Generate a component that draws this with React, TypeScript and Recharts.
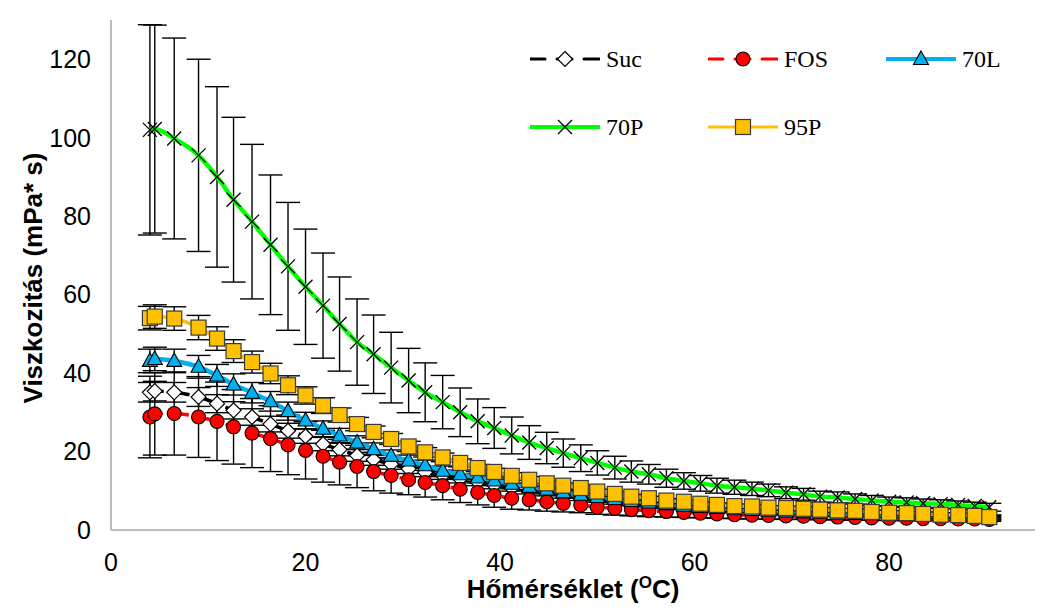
import { ErrorBar, Legend, Line, LineChart, XAxis, YAxis } from "recharts";

// temperature (°C) of each measured point
const temps = [
  4.0, 4.5, 6.5, 9.0, 10.9, 12.6, 14.5, 16.4, 18.2, 20.0,
  21.8, 23.5, 25.3, 27.0, 28.8, 30.6, 32.3, 34.1, 35.9, 37.7,
  39.4, 41.2, 43.0, 44.8, 46.5, 48.3, 50.0, 51.8, 53.5, 55.3,
  57.1, 58.9, 60.6, 62.3, 64.1, 65.9, 67.6, 69.4, 71.2, 72.9,
  74.7, 76.5, 78.2, 80.0, 81.8, 83.5, 85.3, 87.1, 88.8, 90.3,
];

const suc = [
  35.1, 35.4, 35.1, 33.9, 32.2, 30.5, 28.8, 27.0, 25.3, 23.9,
  21.9, 20.5, 19.0, 17.9, 16.8, 15.6, 14.7, 13.9, 13.0, 12.2,
  11.4, 10.7, 10.0, 9.4, 8.8, 8.2, 7.7, 7.2, 6.8, 6.4,
  6.0, 5.7, 5.4, 5.1, 4.9, 4.7, 4.5, 4.3, 4.2, 4.0,
  3.9, 3.8, 3.7, 3.6, 3.5, 3.4, 3.3, 3.2, 3.1, 3.0,
];
const sucErr = [
  2.5, 2.5, 2.5, 2.4, 2.3, 2.2, 2.1, 2.0, 1.9, 1.8,
  1.7, 1.6, 1.5, 1.4, 1.3, 1.2, 1.1, 1.0, 1.0, 0.9,
  0.9, 0.8, 0.8, 0.7, 0.7, 0.7, 0.6, 0.6, 0.6, 0.5,
  0.5, 0.5, 0.5, 0.5, 0.5, 0.5, 0.5, 0.5, 0.5, 0.5,
  0.5, 0.5, 0.5, 0.5, 0.5, 0.5, 0.5, 0.5, 0.5, 0.5,
];

const fos = [
  28.8, 29.6, 29.7, 28.8, 27.7, 26.3, 24.7, 23.3, 21.7, 20.3,
  18.8, 17.3, 16.2, 14.9, 13.9, 12.8, 12.1, 11.3, 10.4, 9.6,
  8.8, 8.1, 7.7, 7.2, 6.8, 6.4, 5.8, 5.5, 5.2, 4.9,
  4.7, 4.5, 4.3, 4.1, 3.9, 3.8, 3.7, 3.6, 3.5, 3.4,
  3.3, 3.2, 3.1, 3.0, 3.0, 2.9, 2.9, 2.8, 2.8, 2.7,
];
const fosErr = [
  10.4, 10.5, 10.6, 10.3, 10.0, 9.5, 8.8, 8.4, 7.6, 7.3,
  6.6, 5.8, 5.4, 4.9, 4.5, 3.8, 3.7, 3.6, 3.4, 3.2,
  3.0, 2.8, 2.6, 2.4, 2.2, 2.0, 1.8, 1.7, 1.6, 1.5,
  1.4, 1.3, 1.2, 1.1, 1.0, 1.0, 0.9, 0.9, 0.8, 0.8,
  0.7, 0.7, 0.6, 0.6, 0.6, 0.5, 0.5, 0.5, 0.5, 0.5,
];

const l70 = [
  43.1, 43.6, 43.1, 41.6, 39.4, 37.1, 35.0, 32.8, 30.3, 27.9,
  25.8, 24.1, 22.3, 20.6, 18.9, 17.7, 16.5, 15.1, 14.2, 13.4,
  12.6, 11.8, 11.0, 10.3, 9.6, 9.0, 8.4, 7.9, 7.4, 7.0,
  6.6, 6.2, 5.9, 5.6, 5.3, 5.1, 4.9, 4.7, 4.5, 4.4,
  4.2, 4.1, 4.0, 3.9, 3.8, 3.7, 3.6, 3.5, 3.4, 3.3,
];
const l70Err = [
  3.0, 3.0, 3.0, 2.9, 2.8, 2.7, 2.6, 2.5, 2.3, 2.1,
  2.0, 1.8, 1.7, 1.6, 1.5, 1.4, 1.3, 1.2, 1.1, 1.0,
  0.9, 0.9, 0.8, 0.8, 0.7, 0.7, 0.7, 0.6, 0.6, 0.6,
  0.5, 0.5, 0.5, 0.5, 0.5, 0.5, 0.5, 0.5, 0.5, 0.5,
  0.5, 0.5, 0.5, 0.5, 0.5, 0.5, 0.5, 0.5, 0.5, 0.5,
];

const p70 = [
  102.0, 102.2, 99.8, 95.5, 90.0, 84.2, 78.6, 72.7, 67.2, 62.0,
  57.2, 52.5, 47.9, 44.8, 41.4, 38.1, 35.1, 32.6, 30.0, 27.7,
  26.0, 24.1, 22.3, 20.9, 19.6, 18.3, 17.1, 15.9, 14.9, 14.2,
  13.2, 12.5, 11.9, 11.3, 10.9, 10.5, 10.1, 9.5, 9.1, 8.5,
  8.3, 7.9, 7.5, 7.2, 7.0, 6.8, 6.6, 6.4, 6.1, 5.8,
];
const p70Err = [
  26.8, 26.5, 25.6, 24.5, 23.0, 21.0, 19.7, 17.8, 16.3, 14.7,
  13.4, 12.0, 11.0, 10.0, 9.0, 8.2, 7.5, 6.8, 6.2, 5.7,
  5.2, 4.7, 4.3, 4.0, 3.6, 3.4, 3.1, 2.9, 2.7, 2.5,
  2.3, 2.1, 2.0, 1.9, 1.8, 1.7, 1.6, 1.5, 1.5, 1.4,
  1.4, 1.3, 1.3, 1.2, 1.2, 1.1, 1.1, 1.0, 1.0, 1.0,
];

const p95 = [
  54.0, 54.4, 53.9, 51.6, 48.8, 45.6, 42.8, 39.9, 36.9, 34.3,
  31.7, 29.3, 27.0, 25.0, 23.2, 21.3, 19.8, 18.5, 17.1, 15.8,
  14.8, 13.8, 12.8, 11.9, 11.3, 10.7, 9.8, 9.2, 8.5, 8.1,
  7.5, 7.2, 6.7, 6.4, 6.1, 6.0, 5.7, 5.6, 5.4, 5.2,
  5.0, 4.9, 4.6, 4.4, 4.3, 4.1, 3.9, 3.8, 3.6, 3.3,
];
const p95Err = [
  3.0, 3.0, 3.0, 3.1, 3.0, 2.9, 2.8, 2.6, 2.4, 2.2,
  2.0, 1.8, 1.7, 1.5, 1.4, 1.3, 1.2, 1.1, 1.0, 0.9,
  0.9, 0.8, 0.8, 0.7, 0.7, 0.7, 0.6, 0.6, 0.6, 0.5,
  0.5, 0.5, 0.5, 0.5, 0.5, 0.5, 0.5, 0.5, 0.5, 0.5,
  0.5, 0.5, 0.5, 0.5, 0.5, 0.5, 0.5, 0.5, 0.5, 0.5,
];

const xTicks = [0, 20, 40, 60, 80];
const yTicks = [0, 20, 40, 60, 80, 100, 120];

const rows = temps.map((t, i) => ({
  t,
  suc: suc[i], sucErr: sucErr[i],
  fos: fos[i], fosErr: fosErr[i],
  l70: l70[i], l70Err: l70Err[i],
  p70: p70[i], p70Err: p70Err[i],
  p95: p95[i], p95Err: p95Err[i],
}));

type MarkerKind = "diamond" | "circle" | "triangle" | "cross" | "square";

function Marker({ kind, cx, cy }: { kind: MarkerKind; cx: number; cy: number }) {
  if (cx == null || cy == null) return null;
  switch (kind) {
    case "diamond":
      return (
        <path
          d={`M${cx},${cy - 7.5}L${cx + 7.5},${cy}L${cx},${cy + 7.5}L${cx - 7.5},${cy}Z`}
          fill="#fff" stroke="#000" strokeWidth={1.2}
        />
      );
    case "circle":
      return <circle cx={cx} cy={cy} r={7} fill="#ff0000" stroke="#000" strokeWidth={1.1} />;
    case "triangle":
      return (
        <path
          d={`M${cx},${cy - 8}L${cx + 7.5},${cy + 5.5}L${cx - 7.5},${cy + 5.5}Z`}
          fill="#00b0f0" stroke="#000" strokeWidth={1.1}
        />
      );
    case "cross":
      return (
        <path
          d={`M${cx - 7},${cy - 7}L${cx + 7},${cy + 7}M${cx + 7},${cy - 7}L${cx - 7},${cy + 7}`}
          stroke="#000" strokeWidth={1.3} fill="none"
        />
      );
    default:
      return (
        <rect x={cx - 7.5} y={cy - 7.5} width={15} height={15} fill="#ffc000" stroke="#3a3a3a" strokeWidth={1.2} />
      );
  }
}

const series = [
  { key: "suc", name: "Suc", color: "#000000", width: 3.5, dash: "14 12", marker: "diamond" as MarkerKind },
  { key: "fos", name: "FOS", color: "#ff0000", width: 3.5, dash: "14 12", marker: "circle" as MarkerKind },
  { key: "l70", name: "70L", color: "#00b0f0", width: 4.5, dash: undefined, marker: "triangle" as MarkerKind },
  { key: "p70", name: "70P", color: "#00ff00", width: 4.5, dash: undefined, marker: "cross" as MarkerKind },
  { key: "p95", name: "95P", color: "#ffc000", width: 3.5, dash: undefined, marker: "square" as MarkerKind },
];

// where each legend entry sits inside the legend box
const legendSlots = [
  { left: 10, top: 29 },
  { left: 188, top: 29 },
  { left: 366, top: 29 },
  { left: 10, top: 97 },
  { left: 188, top: 97 },
];

function LegendBox() {
  return (
    <div style={{ position: "relative", width: 520, height: 120 }}>
      {series.map((s, i) => (
        <div key={s.key} style={{ position: "absolute", left: legendSlots[i].left, top: legendSlots[i].top - 14 }}>
          <svg width={70} height={28} style={{ position: "absolute", left: 0, top: 0 }}>
            <line x1={0} y1={14} x2={70} y2={14} stroke={s.color} strokeWidth={s.width - 0.5}
              strokeDasharray={s.dash ? "15 12" : undefined} strokeLinecap="round" />
            <Marker kind={s.marker} cx={35} cy={14} />
          </svg>
          <span style={{
            position: "absolute", left: 76, top: 0, lineHeight: "28px", fontSize: 24, fontWeight: "normal",
            fontFamily: "'Liberation Serif', 'Times New Roman', serif", color: "#000", whiteSpace: "nowrap",
          }}>
            {s.name}
          </span>
        </div>
      ))}
    </div>
  );
}

const tickStyle = { fontSize: 25, fill: "#000", fontFamily: "'Liberation Sans', Arial, sans-serif" };
const titleFont = "'Liberation Sans', Arial, sans-serif";

export default function App() {
  return (
    <div style={{ position: "relative", width: 1040, height: 602, outline: "1px solid #d9d9d9" }}>
      <LineChart width={1040} height={602} data={rows} margin={{ top: 12, right: 13, left: 0, bottom: 0 }}>
        <XAxis
          dataKey="t" type="number" domain={[0, 95]} ticks={xTicks} height={80}
          axisLine={{ stroke: "#a6a6a6", strokeWidth: 1.5 }} tickLine={false} tickSize={0} tickMargin={23}
          tick={tickStyle}
          label={(p: any) => {
            const vb = p.viewBox;
            return (
              <text x={vb.x + vb.width / 2} y={vb.y + 68} textAnchor="middle" fontSize={26} fontWeight="bold"
                fontFamily={titleFont} fill="#000">
                Hőmérséklet (<tspan dy={-10} fontSize={17}>O</tspan><tspan dy={10}>C)</tspan>
              </text>
            );
          }}
        />
        <YAxis
          type="number" domain={[0, 130]} ticks={yTicks} width={103}
          axisLine={{ stroke: "#a6a6a6", strokeWidth: 1.5 }} tickLine={false} tickSize={0} tickMargin={20}
          tick={tickStyle}
          label={(p: any) => {
            const vb = p.viewBox;
            const cx = 25;
            const cy = vb.y + vb.height / 2 + 3;
            return (
              <text x={cx} y={cy} transform={`rotate(-90 ${cx} ${cy})`} textAnchor="middle" dominantBaseline="central"
                fontSize={26} fontWeight="bold" fontFamily={titleFont} fill="#000">
                Viszkozitás (mPa* s)
              </text>
            );
          }}
        />
        <Legend
          layout="vertical" align="center" verticalAlign="middle"
          wrapperStyle={{ top: 22, left: 512, width: 520, height: 120 }}
          content={() => <LegendBox />}
        />
        {series.map((s) => (
          <Line
            key={s.key}
            dataKey={s.key}
            name={s.name}
            type="monotone"
            stroke={s.color}
            strokeWidth={s.width}
            strokeDasharray={s.dash}
            isAnimationActive={false}
            dot={(p: any) => <Marker key={`${s.key}-${p.index}`} kind={s.marker} cx={p.cx} cy={p.cy} />}
            activeDot={false}
          >
            <ErrorBar dataKey={`${s.key}Err`} direction="y" width={12} stroke="#000" strokeWidth={1.4}
              isAnimationActive={false} />
          </Line>
        ))}
      </LineChart>
    </div>
  );
}
